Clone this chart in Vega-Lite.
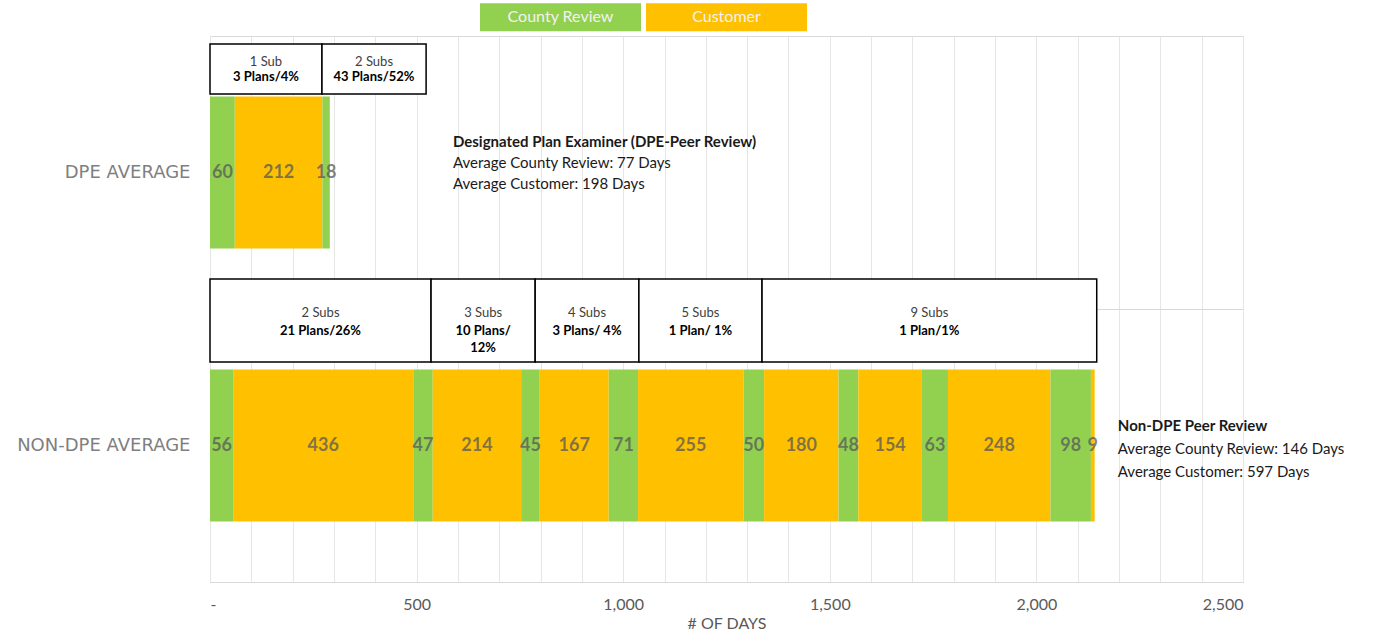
{
  "$schema": "https://vega.github.io/schema/vega-lite/v6.json",
  "width": 1033,
  "height": 546,
  "autosize": {"type": "none"},
  "padding": {"left": 210, "top": 36, "right": 154, "bottom": 52},
  "background": "#ffffff",
  "config": {"font": "Lato", "view": {"stroke": null}},
  "datasets": {
    "segments": [
      {"group": "DPE AVERAGE", "order": 1, "phase": "County Review", "days": 60},
      {"group": "DPE AVERAGE", "order": 2, "phase": "Customer", "days": 212},
      {"group": "DPE AVERAGE", "order": 3, "phase": "County Review", "days": 18},
      {"group": "NON-DPE AVERAGE", "order": 1, "phase": "County Review", "days": 56},
      {"group": "NON-DPE AVERAGE", "order": 2, "phase": "Customer", "days": 436},
      {"group": "NON-DPE AVERAGE", "order": 3, "phase": "County Review", "days": 47},
      {"group": "NON-DPE AVERAGE", "order": 4, "phase": "Customer", "days": 214},
      {"group": "NON-DPE AVERAGE", "order": 5, "phase": "County Review", "days": 45},
      {"group": "NON-DPE AVERAGE", "order": 6, "phase": "Customer", "days": 167},
      {"group": "NON-DPE AVERAGE", "order": 7, "phase": "County Review", "days": 71},
      {"group": "NON-DPE AVERAGE", "order": 8, "phase": "Customer", "days": 255},
      {"group": "NON-DPE AVERAGE", "order": 9, "phase": "County Review", "days": 50},
      {"group": "NON-DPE AVERAGE", "order": 10, "phase": "Customer", "days": 180},
      {"group": "NON-DPE AVERAGE", "order": 11, "phase": "County Review", "days": 48},
      {"group": "NON-DPE AVERAGE", "order": 12, "phase": "Customer", "days": 154},
      {"group": "NON-DPE AVERAGE", "order": 13, "phase": "County Review", "days": 63},
      {"group": "NON-DPE AVERAGE", "order": 14, "phase": "Customer", "days": 248},
      {"group": "NON-DPE AVERAGE", "order": 15, "phase": "County Review", "days": 98},
      {"group": "NON-DPE AVERAGE", "order": 16, "phase": "Customer", "days": 9}
    ],
    "boxes": [
      {"group": "DPE AVERAGE", "order": 1, "span": 271, "subs": "1 Sub", "plans": "3 Plans/4%"},
      {"group": "DPE AVERAGE", "order": 2, "span": 252, "subs": "2 Subs", "plans": "43 Plans/52%"},
      {"group": "NON-DPE AVERAGE", "order": 1, "span": 535, "subs": "2 Subs", "plans": "21 Plans/26%"},
      {"group": "NON-DPE AVERAGE", "order": 2, "span": 252, "subs": "3 Subs", "plans": "10 Plans/\n12%"},
      {"group": "NON-DPE AVERAGE", "order": 3, "span": 251, "subs": "4 Subs", "plans": "3 Plans/ 4%"},
      {"group": "NON-DPE AVERAGE", "order": 4, "span": 298, "subs": "5 Subs", "plans": "1 Plan/ 1%"},
      {"group": "NON-DPE AVERAGE", "order": 5, "span": 810, "subs": "9 Subs", "plans": "1 Plan/1%"}
    ],
    "notes": [
      {"group": "DPE AVERAGE", "title": "Designated Plan Examiner (DPE-Peer Review)", "body": "Average County Review:  77 Days\nAverage Customer: 198 Days"},
      {"group": "NON-DPE AVERAGE", "title": "Non-DPE Peer Review", "body": "Average County  Review: 146 Days\nAverage Customer:  597 Days"}
    ]
  },
  "resolve": {"scale": {"y": "independent"}},
  "layer": [
    {
      "data": {"name": "segments"},
      "encoding": {
        "y": {
          "field": "group", "type": "nominal",
          "sort": ["DPE AVERAGE", "NON-DPE AVERAGE"],
          "scale": {"paddingInner": 0, "paddingOuter": 0},
          "axis": {
            "title": null, "grid": true, "tickBand": "extent", "gridColor": "#d9d9d9",
            "domain": false, "ticks": false, "labelFont": "DejaVu Sans", "labelFontSize": 18,
            "labelColor": "#7f7f7f", "labelPadding": 20
          }
        },
        "order": {"field": "order", "type": "quantitative"},
        "detail": {"field": "order", "type": "quantitative"}
      },
      "layer": [
        {
          "mark": {"type": "bar", "height": {"band": 0.557}},
          "encoding": {
            "x": {
              "field": "days", "type": "quantitative", "stack": "zero",
              "scale": {"domain": [0, 2500], "nice": false},
              "axis": {
                "values": [0,100,200,300,400,500,600,700,800,900,1000,1100,1200,1300,1400,1500,1600,1700,1800,1900,2000,2100,2200,2300,2400,2500],
                "labelExpr": "datum.value % 500 === 0 ? (datum.value === 0 ? '-' : format(datum.value, ',')) : ''",
                "labelOverlap": false, "grid": true, "gridColor": "#e6e6e6", "ticks": false,
                "domainColor": "#d9d9d9", "labelFont": "Lato", "labelFontSize": 16, "labelColor": "#595959",
                "labelPadding": 14, "title": "# OF DAYS", "titleFont": "Lato", "titleFontSize": 16,
                "titleFontWeight": "normal", "titleColor": "#595959", "titlePadding": 3
              }
            },
            "color": {
              "field": "phase", "type": "nominal",
              "scale": {"domain": ["County Review", "Customer"], "range": ["#92d050", "#ffc000"]},
              "legend": {
                "orient": "none", "legendX": 270, "legendY": -99.5, "direction": "horizontal",
                "title": null, "symbolType": "M-1,-0.174H1V0.174H-1Z", "symbolSize": 25921,
                "symbolStrokeWidth": 0, "symbolOpacity": 1,
                "labelAlign": "center", "labelOffset": -80.5, "labelColor": "#f2f2f2",
                "labelFont": "Lato", "labelFontSize": 16, "labelLimit": 200,
                "columnPadding": 5, "padding": 0
              }
            }
          }
        },
        {
          "mark": {"type": "text", "font": "Lato", "fontSize": 18, "fontWeight": "bold", "fill": "#595959", "fillOpacity": 0.75, "baseline": "middle"},
          "encoding": {
            "x": {"field": "days", "type": "quantitative", "stack": "zero", "bandPosition": 0.5, "scale": {"domain": [0, 2500], "nice": false}},
            "text": {"field": "days", "type": "quantitative"}
          }
        }
      ]
    },
    {
      "data": {"name": "boxes"},
      "transform": [
        {"filter": "datum.group === 'DPE AVERAGE'"},
        {"stack": "span", "groupby": ["group"], "sort": [{"field": "order", "order": "ascending"}], "as": ["b0", "b1"]}
      ],
      "layer": [
        {
          "mark": {"type": "rect", "fill": "#ffffff", "stroke": "#000000", "strokeWidth": 1.5},
          "encoding": {
            "x": {"field": "b0", "type": "quantitative", "scale": {"domain": [0, 2500], "nice": false}},
            "x2": {"field": "b1"},
            "y": {"datum": 0.0293, "type": "quantitative", "scale": {"domain": [0, 2], "reverse": true, "nice": false, "zero": false}, "axis": null},
            "y2": {"datum": 0.2125}
          }
        },
        {
          "mark": {"type": "text", "font": "Lato", "fontSize": 13, "fill": "#404040", "baseline": "middle"},
          "encoding": {
            "x": {"field": "span", "type": "quantitative", "stack": "zero", "bandPosition": 0.5, "scale": {"domain": [0, 2500], "nice": false}},
            "y": {"datum": 0.0941, "type": "quantitative", "scale": {"domain": [0, 2], "reverse": true, "nice": false, "zero": false}, "axis": null},
            "order": {"field": "order", "type": "quantitative"},
            "detail": {"field": "order", "type": "quantitative"},
            "text": {"field": "subs", "type": "nominal"}
          }
        },
        {
          "mark": {"type": "text", "font": "Lato", "fontSize": 13, "fontWeight": "bold", "fill": "#000000", "baseline": "middle", "lineBreak": "\n", "lineHeight": 15},
          "encoding": {
            "x": {"field": "span", "type": "quantitative", "stack": "zero", "bandPosition": 0.5, "scale": {"domain": [0, 2500], "nice": false}},
            "y": {"datum": 0.1502, "type": "quantitative", "scale": {"domain": [0, 2], "reverse": true, "nice": false, "zero": false}, "axis": null},
            "order": {"field": "order", "type": "quantitative"},
            "detail": {"field": "order", "type": "quantitative"},
            "text": {"field": "plans", "type": "nominal"}
          }
        }
      ]
    },
    {
      "data": {"name": "boxes"},
      "transform": [
        {"filter": "datum.group === 'NON-DPE AVERAGE'"},
        {"stack": "span", "groupby": ["group"], "sort": [{"field": "order", "order": "ascending"}], "as": ["b0", "b1"]}
      ],
      "layer": [
        {
          "mark": {"type": "rect", "fill": "#ffffff", "stroke": "#000000", "strokeWidth": 1.5},
          "encoding": {
            "x": {"field": "b0", "type": "quantitative", "scale": {"domain": [0, 2500], "nice": false}},
            "x2": {"field": "b1"},
            "y": {"datum": 0.8901, "type": "quantitative", "scale": {"domain": [0, 2], "reverse": true, "nice": false, "zero": false}, "axis": null},
            "y2": {"datum": 1.1941}
          }
        },
        {
          "mark": {"type": "text", "font": "Lato", "fontSize": 13, "fill": "#404040", "baseline": "middle"},
          "encoding": {
            "x": {"field": "span", "type": "quantitative", "stack": "zero", "bandPosition": 0.5, "scale": {"domain": [0, 2500], "nice": false}},
            "y": {"datum": 1.0147, "type": "quantitative", "scale": {"domain": [0, 2], "reverse": true, "nice": false, "zero": false}, "axis": null},
            "order": {"field": "order", "type": "quantitative"},
            "detail": {"field": "order", "type": "quantitative"},
            "text": {"field": "subs", "type": "nominal"}
          }
        },
        {
          "mark": {"type": "text", "font": "Lato", "fontSize": 13, "fontWeight": "bold", "fill": "#000000", "baseline": "middle", "lineBreak": "\n", "lineHeight": 17},
          "encoding": {
            "x": {"field": "span", "type": "quantitative", "stack": "zero", "bandPosition": 0.5, "scale": {"domain": [0, 2500], "nice": false}},
            "y": {"datum": 1.0806, "type": "quantitative", "scale": {"domain": [0, 2], "reverse": true, "nice": false, "zero": false}, "axis": null},
            "order": {"field": "order", "type": "quantitative"},
            "detail": {"field": "order", "type": "quantitative"},
            "text": {"field": "plans", "type": "nominal"}
          }
        }
      ]
    },
    {
      "data": {"name": "notes"},
      "transform": [{"filter": "datum.group === 'DPE AVERAGE'"}],
      "encoding": {
        "x": {"datum": 588, "type": "quantitative", "scale": {"domain": [0, 2500], "nice": false}}
      },
      "layer": [
        {
          "mark": {"type": "text", "font": "Lato", "fontSize": 15, "fontWeight": "bold", "fill": "#1a1a1a", "align": "left", "baseline": "middle"},
          "encoding": {
            "y": {"datum": 0.3883, "type": "quantitative", "scale": {"domain": [0, 2], "reverse": true, "nice": false, "zero": false}, "axis": null},
            "text": {"field": "title", "type": "nominal"}
          }
        },
        {
          "mark": {"type": "text", "font": "Lato", "fontSize": 15, "fill": "#1a1a1a", "align": "left", "baseline": "middle", "lineBreak": "\n", "lineHeight": 21},
          "encoding": {
            "y": {"datum": 0.4652, "type": "quantitative", "scale": {"domain": [0, 2], "reverse": true, "nice": false, "zero": false}, "axis": null},
            "text": {"field": "body", "type": "nominal"}
          }
        }
      ]
    },
    {
      "data": {"name": "notes"},
      "transform": [{"filter": "datum.group === 'NON-DPE AVERAGE'"}],
      "encoding": {
        "x": {"datum": 2197, "type": "quantitative", "scale": {"domain": [0, 2500], "nice": false}}
      },
      "layer": [
        {
          "mark": {"type": "text", "font": "Lato", "fontSize": 15, "fontWeight": "bold", "fill": "#1a1a1a", "align": "left", "baseline": "middle"},
          "encoding": {
            "y": {"datum": 1.4286, "type": "quantitative", "scale": {"domain": [0, 2], "reverse": true, "nice": false, "zero": false}, "axis": null},
            "text": {"field": "title", "type": "nominal"}
          }
        },
        {
          "mark": {"type": "text", "font": "Lato", "fontSize": 15, "fill": "#1a1a1a", "align": "left", "baseline": "middle", "lineBreak": "\n", "lineHeight": 23},
          "encoding": {
            "y": {"datum": 1.5128, "type": "quantitative", "scale": {"domain": [0, 2], "reverse": true, "nice": false, "zero": false}, "axis": null},
            "text": {"field": "body", "type": "nominal"}
          }
        }
      ]
    }
  ]
}
